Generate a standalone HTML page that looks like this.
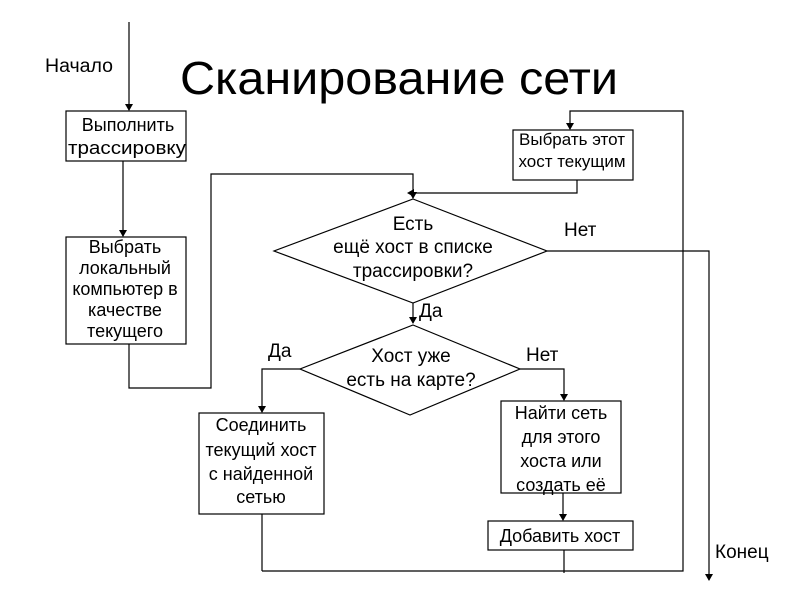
<!DOCTYPE html>
<html><head><meta charset="utf-8"><style>
html,body{margin:0;padding:0;background:#fff;width:800px;height:600px;overflow:hidden}
svg text{font-family:"Liberation Sans","DejaVu Sans",sans-serif;fill:#000}
</style></head><body>
<svg width="800" height="600" viewBox="0 0 800 600" xmlns="http://www.w3.org/2000/svg">
<g stroke="#000" stroke-width="1.2" fill="none">
<line x1="129" y1="22" x2="129" y2="110"/>
<rect x="66" y="111" width="120" height="50"/>
<line x1="123" y1="161" x2="123" y2="236"/>
<rect x="66" y="237" width="120" height="107"/>
<polyline points="129,344 129,388 211,388 211,174 413,174 413,198"/>
<rect x="513" y="130" width="120" height="50"/>
<polyline points="577,180 577,193 415,193"/>
<polyline points="262,571 683,571 683,111 570,111 570,129"/>
<polygon points="413,199 547,251 413,303 274,251"/>
<polyline points="547,251 709,251 709,580"/>
<line x1="413" y1="303" x2="413" y2="323"/>
<polygon points="413,325 520,369 410,415 300,369"/>
<polyline points="300,369 262,369 262,412"/>
<polyline points="520,369 564,369 564,400"/>
<rect x="501" y="401" width="120" height="92"/>
<line x1="563" y1="493" x2="563" y2="520"/>
<rect x="488" y="521" width="145" height="29"/>
<line x1="564" y1="550" x2="564" y2="573"/>
<rect x="199" y="413" width="125" height="101"/>
<line x1="262" y1="514" x2="262" y2="571"/>
</g>
<g fill="#000">
<polygon points="125,104 133,104 129,111"/>
<polygon points="119,230 127,230 123,237"/>
<polygon points="409,192 417,192 413,199"/>
<polygon points="566,123 574,123 570,130"/>
<polygon points="414,189 414,197 407,193"/>
<polygon points="705,574 713,574 709,581"/>
<polygon points="409,317 417,317 413,324"/>
<polygon points="258,406 266,406 262,413"/>
<polygon points="560,394 568,394 564,401"/>
<polygon points="559,514 567,514 563,521"/>
</g>
<text x="180" y="94" font-size="46" textLength="438" lengthAdjust="spacingAndGlyphs">Сканирование сети</text>
<text x="45" y="72" font-size="19" textLength="68" lengthAdjust="spacingAndGlyphs">Начало</text>
<g font-size="18" text-anchor="middle">
<text x="128" y="131">Выполнить</text>
<text x="127" y="154" textLength="118" lengthAdjust="spacingAndGlyphs">трассировку</text>
<text x="125" y="253">Выбрать</text>
<text x="125" y="274">локальный</text>
<text x="125" y="295">компьютер в</text>
<text x="125" y="316">качестве</text>
<text x="125" y="337">текущего</text>
<text x="572" y="145" font-size="17">Выбрать этот</text>
<text x="572" y="167" font-size="17">хост текущим</text>
<text x="413" y="230" font-size="19">Есть</text>
<text x="413" y="253" font-size="19">ещё хост в списке</text>
<text x="413" y="277" font-size="19">трассировки?</text>
<text x="411" y="362" font-size="19">Хост уже</text>
<text x="411" y="386" font-size="19">есть на карте?</text>
<text x="261" y="431">Соединить</text>
<text x="261" y="456">текущий хост</text>
<text x="261" y="480">с найденной</text>
<text x="261" y="503">сетью</text>
<text x="561" y="419">Найти сеть</text>
<text x="561" y="443">для этого</text>
<text x="561" y="467">хоста или</text>
<text x="561" y="491">создать её</text>
<text x="560" y="542">Добавить хост</text>
</g>
<g font-size="19">
<text x="564" y="236">Нет</text>
<text x="419" y="317">Да</text>
<text x="268" y="357">Да</text>
<text x="526" y="361">Нет</text>
<text x="715" y="558">Конец</text>
</g>
</svg>
</body></html>
